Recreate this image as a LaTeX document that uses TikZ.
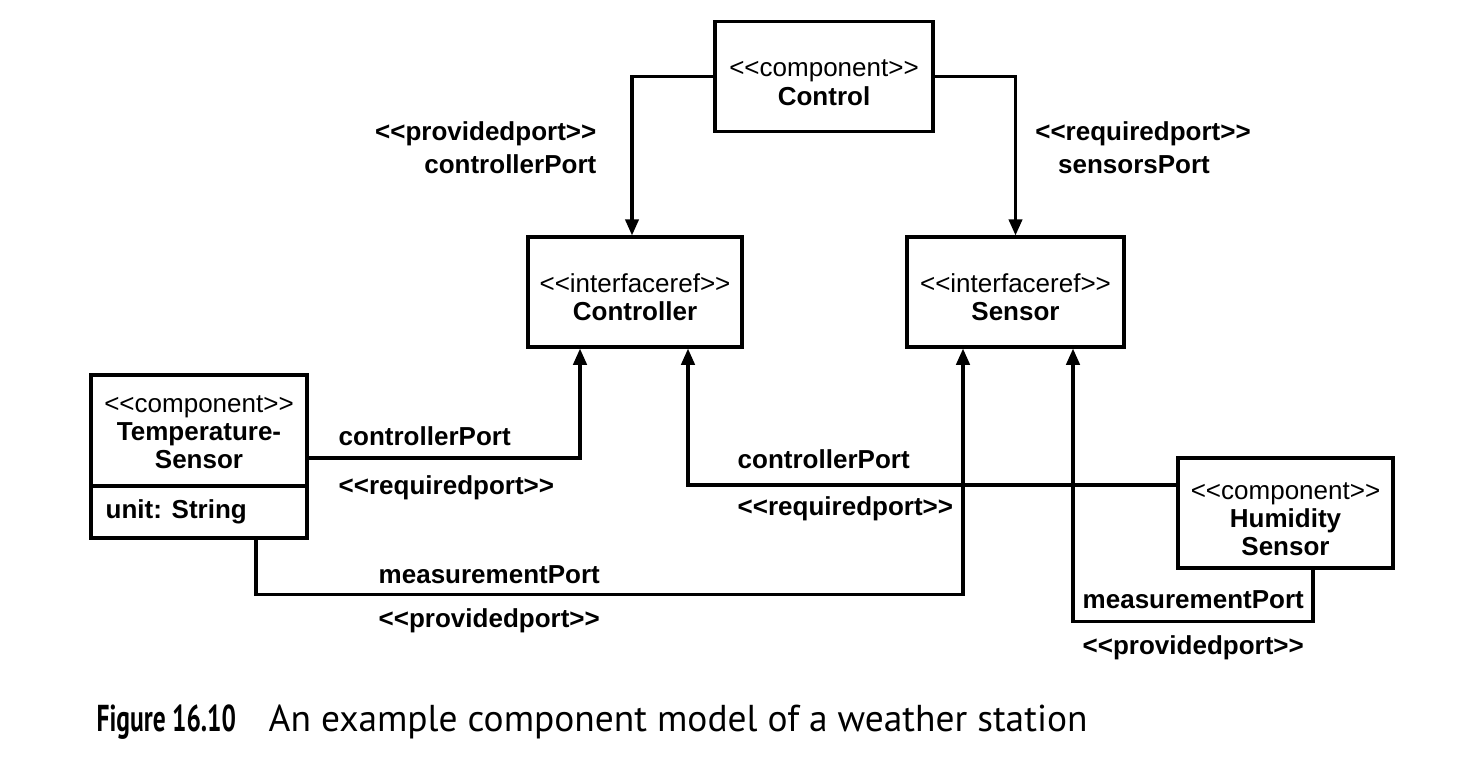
\documentclass[tikz,border=0pt]{standalone}
\usepackage{fontspec}
\setmainfont{Liberation Sans}
\newfontfamily\capfont{PT Sans}
\usepackage{tikz}
\usetikzlibrary{arrows.meta,positioning}
% stereotype text, kern keeps << from turning into a guillemet
\newcommand{\stereo}[1]{<\kern0pt<#1>\kern0pt>}

\begin{document}
\begin{tikzpicture}[
    compbox/.style={rectangle, draw, line width=0.9pt, align=center,
        minimum width=2.16cm, minimum height=1.10cm, inner sep=0pt,
        font=\fontsize{7.4}{8}\selectfont, text height=16.3pt},
    lbl/.style={font=\fontsize{7.4}{8.4}\selectfont\bfseries, inner sep=0pt,
        text height=1.9mm, text depth=0.5mm},
    link/.style={-{Triangle[length=4.6pt,width=3.8pt]}, line width=0.9pt}
]
    \useasboundingbox (0,0) rectangle (14.84,-7.58);
    \node[compbox, minimum width=2.18cm] (ctrl) at (8.24,-0.765) {\stereo{component}\\\textbf{Control}};
    \node[compbox, minimum width=2.14cm] (ctrlr) at (6.35,-2.92) {\stereo{interfaceref}\\\textbf{Controller}};
    \node[compbox, minimum width=2.17cm] (sens) at (10.155,-2.92) {\stereo{interfaceref}\\\textbf{Sensor}};
    \node[compbox, minimum width=2.15cm, text height=24.3pt] (hum) at (12.855,-5.13) {\stereo{component}\\\textbf{Humidity}\\\textbf{Sensor}};
    % temperature sensor with an attribute compartment
    \node[compbox, minimum height=1.63cm] (temp) at (1.99,-4.565) {};
    \node[compbox, draw=none, minimum width=0pt, minimum height=0pt, text height=24.3pt] (tempname) at (1.99,-4.26)
        {\stereo{component}\\\textbf{Temperature-}\\\textbf{Sensor}};
    \node[lbl, anchor=west] (tempattr) at (1.05,-5.11) {unit: String};
    \draw[line width=0.9pt] (temp.west |- 0,-4.86) -- (temp.east |- 0,-4.86);

    \draw[link] (ctrl.west) -| ([xshift=-0.03cm]ctrlr.north);
    \draw[link] (ctrl.east) -| (sens.north);
    \draw[link] (temp.east |- 0,-4.58) -| ([xshift=-0.55cm]ctrlr.south);
    \draw[link] ([xshift=0.57cm]temp.south) -- ++(0,-0.55) -| ([xshift=-0.525cm]sens.south);
    \draw[link] ([yshift=0.28cm]hum.west) -| ([xshift=0.53cm]ctrlr.south);
    \draw[link] ([xshift=0.275cm]hum.south) -- ++(0,-0.52) -| ([xshift=0.575cm]sens.south);

    \node[lbl, anchor=east] (pp1) at (5.97,-1.33) {\stereo{providedport}};
    \node[lbl, anchor=east] (cp1) at (5.97,-1.66) {controllerPort};
    \node[lbl] (rp1) at (11.43,-1.33) {\stereo{requiredport}};
    \node[lbl] (sp1) at (11.34,-1.66) {sensorsPort};
    \node[lbl, anchor=west] (cp2) at (3.38,-4.38) {controllerPort};
    \node[lbl, anchor=west] (rp2) at (3.38,-4.87) {\stereo{requiredport}};
    \node[lbl, anchor=west] (mp1) at (3.78,-5.76) {measurementPort};
    \node[lbl, anchor=west] (pp2) at (3.78,-6.20) {\stereo{providedport}};
    \node[lbl, anchor=west] (cp3) at (7.37,-4.61) {controllerPort};
    \node[lbl, anchor=west] (rp3) at (7.37,-5.08) {\stereo{requiredport}};
    \node[lbl, anchor=west] (mp2) at (10.82,-6.01) {measurementPort};
    \node[lbl, anchor=west] (pp3) at (10.82,-6.47) {\stereo{providedport}};

    % caption
    \node[anchor=west, inner sep=0pt, font=\capfont\fontsize{10.65}{12}\selectfont\bfseries] (fig) at (0.96,-7.22) {\scalebox{0.68}[1]{Figure 16.10}};
    \node[anchor=west, inner sep=0pt, font=\capfont\fontsize{10.65}{12}\selectfont] (cap) at (2.68,-7.22) {An example component model of a weather station};
\end{tikzpicture}
\end{document}
